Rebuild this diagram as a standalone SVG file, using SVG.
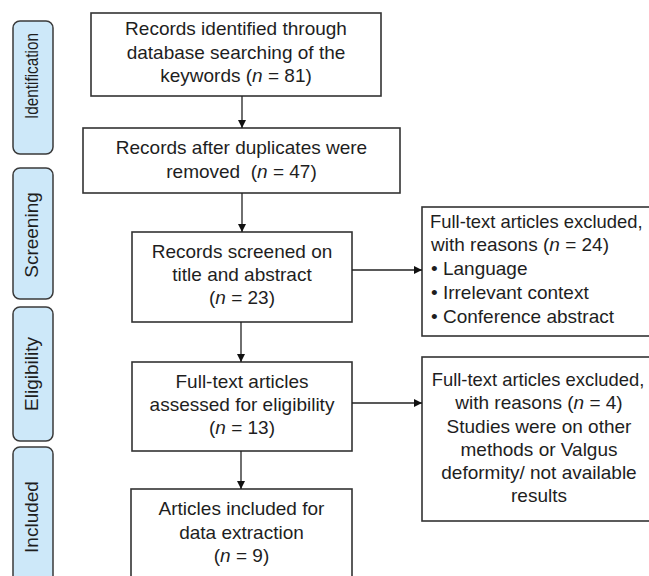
<svg xmlns="http://www.w3.org/2000/svg" width="649" height="576" viewBox="0 0 649 576">
<style>
.box{fill:#fff;stroke:#333;stroke-width:1.6}
.side{fill:#cde8f9;stroke:#3a3a3a;stroke-width:1.5}
text{font-family:"Liberation Sans",Arial,sans-serif;font-size:19px;fill:#1e1e1e}
.c{text-anchor:middle}
.s{font-size:19px;text-anchor:middle}
.n{font-size:18.4px}
.conn line{stroke:#222;stroke-width:1.3}
</style>
<defs>
<marker id="ah" viewBox="0 0 10 10" refX="10" refY="5" markerWidth="9" markerHeight="8" markerUnits="userSpaceOnUse" orient="auto">
<path d="M0,0 L10,5 L0,10 z" fill="#111"/>
</marker>
</defs>
<rect width="649" height="576" fill="#fff"/>

<g id="lbl-identification"><rect class="side" x="13" y="21" width="40" height="133" rx="7"/><text class="s" transform="translate(38 76) rotate(-90)" textLength="86" lengthAdjust="spacingAndGlyphs">Identification</text></g>
<g id="lbl-screening"><rect class="side" x="13" y="168" width="40" height="131" rx="7"/><text class="s" transform="translate(38 235) rotate(-90)">Screening</text></g>
<g id="lbl-eligibility"><rect class="side" x="13" y="307" width="40" height="134" rx="7"/><text class="s" transform="translate(38 374) rotate(-90)">Eligibility</text></g>
<g id="lbl-included"><rect class="side" x="13" y="447" width="40" height="140" rx="7"/><text class="s" transform="translate(38 517) rotate(-90)">Included</text></g>

<g id="n1"><rect class="box" x="91" y="13" width="290" height="83"/>
<text class="c" x="236" y="35">Records identified through</text><text class="c" x="236" y="58.5">database searching of the</text><text class="c" x="236" y="82">keywords (<tspan font-style="italic">n</tspan> = 81)</text></g>

<g id="n2"><rect class="box" x="83" y="128" width="317" height="65"/>
<text class="c" x="241.5" y="154">Records after duplicates were</text><text class="c" x="241.5" y="178">removed&#160; (<tspan font-style="italic">n</tspan> = 47)</text></g>

<g id="n3"><rect class="box" x="132" y="232" width="220" height="90"/>
<text class="c" x="242" y="258">Records screened on</text><text class="c" x="242" y="281">title and abstract</text><text class="c" x="242" y="304">(<tspan font-style="italic">n</tspan> = 23)</text></g>

<g id="n4"><rect class="box" x="132" y="362" width="220" height="89"/>
<text class="c" x="242" y="388">Full-text articles</text><text class="c" x="242" y="411">assessed for eligibility</text><text class="c" x="242" y="434">(<tspan font-style="italic">n</tspan> = 13)</text></g>

<g id="n5"><rect class="box" x="131" y="489" width="221" height="100"/>
<text class="c" x="241.5" y="515">Articles included for</text><text class="c" x="241.5" y="539">data extraction</text><text class="c" x="241.5" y="562">(<tspan font-style="italic">n</tspan> = 9)</text></g>

<g id="x1"><rect class="box" x="422" y="207" width="240" height="129"/>
<text class="n" x="430" y="228">Full-text articles excluded,</text><text x="431" y="251">with reasons (<tspan font-style="italic">n</tspan> = 24)</text><text x="431" y="275">• Language</text><text x="431" y="299">• Irrelevant context</text><text x="431" y="323">• Conference abstract</text></g>

<g id="x2"><rect class="box" x="422" y="357" width="240" height="164"/>
<text class="c n" x="538" y="386">Full-text articles excluded,</text><text class="c" x="539" y="409">with reasons (<tspan font-style="italic">n</tspan> = 4)</text><text class="c" x="539" y="433">Studies were on other</text><text class="c" x="539" y="456">methods or Valgus</text><text class="c" x="539" y="479">deformity/ not available</text><text class="c" x="539" y="502">results</text></g>

<g id="connectors" class="conn">
<line x1="242" y1="96" x2="242" y2="128" marker-end="url(#ah)"/>
<line x1="242" y1="193" x2="242" y2="232" marker-end="url(#ah)"/>
<line x1="352" y1="270" x2="422" y2="270" marker-end="url(#ah)"/>
<line x1="241" y1="322" x2="241" y2="362" marker-end="url(#ah)"/>
<line x1="352" y1="403" x2="422" y2="403" marker-end="url(#ah)"/>
<line x1="241" y1="451" x2="241" y2="489" marker-end="url(#ah)"/>
</g>
</svg>
